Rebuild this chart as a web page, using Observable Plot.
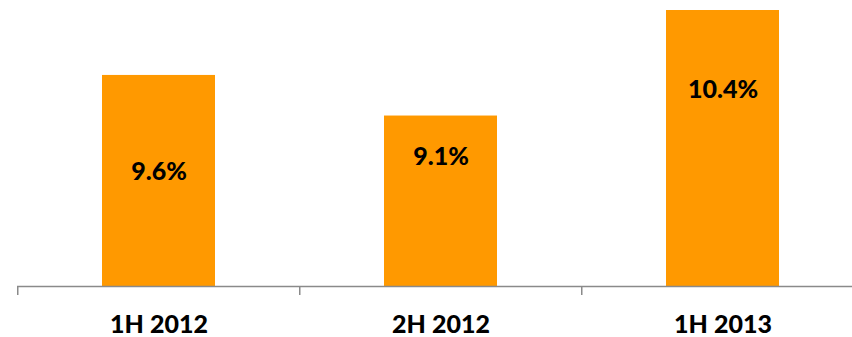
<!DOCTYPE html>
<html>
<head>
<meta charset="utf-8">
<script src="https://cdn.jsdelivr.net/npm/d3@7"></script>
<script src="https://cdn.jsdelivr.net/npm/@observablehq/plot@0.6"></script>
<style>
  html, body { margin: 0; padding: 0; background: #fff; overflow: hidden; }
  #chart svg { display: block; }
</style>
</head>
<body>
<div id="chart"></div>
<script>
// Data
const periods = ["1H 2012", "2H 2012", "1H 2013"];
const values = [9.6, 9.1, 10.4];
const valueLabels = ["9.6%", "9.1%", "10.4%"];

const data = periods.map((p, i) => ({period: p, value: values[i], label: valueLabels[i]}));

const W = 852, H = 337;
const yMin = 7.0;
const xRange = [17, 864.5];
const step = (xRange[1] - xRange[0]) / 3;
const gray = "#8a8a8a";
const orange = "#FF9900";
const font = "Lato, 'Open Sans', sans-serif";

// label vertical offsets (px below bar top), per bar
const labelDy = [97, 41, 79];

const chart = Plot.plot({
  width: W,
  height: H,
  marginLeft: 17,
  marginRight: 0,
  marginTop: 10,
  marginBottom: 51,
  style: {fontFamily: font, background: "#fff", overflow: "visible"},
  x: {type: "band", domain: periods, range: xRange, paddingInner: 0.6, paddingOuter: 0.3, label: null},
  y: {domain: [yMin, d3.max(values)], axis: null},
  marks: [
    Plot.barY(data, {x: "period", y1: yMin, y2: "value", fill: orange}),
    Plot.ruleY([yMin], {stroke: gray, strokeWidth: 1.5}),
    Plot.axisX({tickSize: 9, tickFormat: () => "", label: null, dx: -step / 2, stroke: gray, strokeWidth: 1.5}),
    Plot.axisX({tickSize: 0, tickPadding: 29, label: null, fontSize: 25, fontWeight: 900, fill: "#000"}),
    ...data.map((d, i) => Plot.text([d], {
      x: "period", y: "value", text: "label", dy: labelDy[i],
      fontSize: 25, fontWeight: 900, fill: "#000"
    }))
  ]
});
document.getElementById("chart").appendChild(chart);
</script>
</body>
</html>
